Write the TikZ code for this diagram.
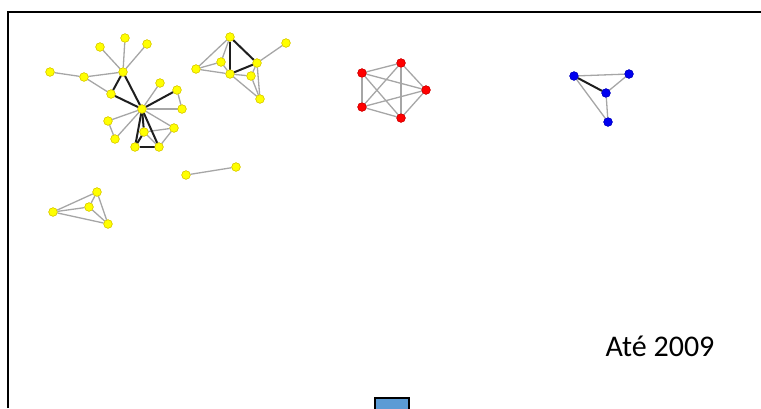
\documentclass[tikz,border=0pt]{standalone}
\usepackage{fontspec}
\setmainfont{Carlito}
\usetikzlibrary{positioning}
\definecolor{yv}{HTML}{FFFF00}
\definecolor{yb}{HTML}{D8C800}
\definecolor{rv}{HTML}{FF0000}
\definecolor{bv}{HTML}{0000F0}
\definecolor{eg}{HTML}{A6A6A6}
\definecolor{ek}{HTML}{1E1E1E}
\definecolor{bx}{HTML}{5B9BD5}
\tikzset{
  yv/.style={circle, fill=yv, draw=yb, line width=0.5pt, minimum size=8.5pt, inner sep=0pt},
  rv/.style={yv, fill=rv, draw=rv!80!black},
  bv/.style={yv, fill=bv, draw=bv!80!black},
  eg/.style={draw=eg, line width=1.3pt},
  ek/.style={draw=ek, line width=2pt},
  frame/.style={line width=2.5pt, black}
}
\begin{document}
\begin{tikzpicture}[x=1pt, y=-1pt]
\useasboundingbox (0,0) rectangle (761,408);

% frame and box
\draw[frame] (8,408) -- (8,12) -- (761,12);
\draw[fill=bx, line width=1.8pt] (375,410) -- (375,398) -- (409,398) -- (409,410);

% big yellow component
\node[yv] (a1) at (50,72) {};
\node[yv] (a2) at (84,77) {};
\node[yv] (a3) at (123,72) {};
\node[yv] (a4) at (100,47) {};
\node[yv] (a5) at (125,38) {};
\node[yv] (a6) at (147,44) {};
\node[yv] (a7) at (111,94) {};
\node[yv] (hub) at (142,109) {};
\node[yv] (a8) at (160,83) {};
\node[yv] (a9) at (177,90) {};
\node[yv] (a10) at (182,109) {};
\node[yv] (a11) at (108,121) {};
\node[yv] (a12) at (115,139) {};
\node[yv] (a13) at (144,132) {};
\node[yv] (a14) at (174,128) {};
\node[yv] (a15) at (135,147) {};
\node[yv] (a16) at (159,147) {};

% second yellow component
\node[yv] (b1) at (230,37) {};
\node[yv] (b2) at (286,43) {};
\node[yv] (b3) at (196,69) {};
\node[yv] (b4) at (221,62) {};
\node[yv] (b5) at (230,74) {};
\node[yv] (b6) at (257,63) {};
\node[yv] (b7) at (251,76) {};
\node[yv] (b8) at (260,99) {};

% small yellow components
\node[yv] (c1) at (97,192) {};
\node[yv] (c2) at (53,212) {};
\node[yv] (c3) at (89,207) {};
\node[yv] (c4) at (108,224) {};
\node[yv] (d1) at (186,175) {};
\node[yv] (d2) at (236,167) {};

% red pentagon
\node[rv] (r1) at (401,63) {};
\node[rv] (r2) at (362,73) {};
\node[rv] (r3) at (426,90) {};
\node[rv] (r4) at (362,107) {};
\node[rv] (r5) at (401,118) {};

% blue component
\node[bv] (u1) at (574,76) {};
\node[bv] (u2) at (629,74) {};
\node[bv] (u3) at (606,93) {};
\node[bv] (u4) at (608,122) {};

% edges
\foreach \s/\t in {a1/a2, a2/a3, a2/a7, a3/a4, a3/a5, a3/a6, hub/a8, a9/a10,
    hub/a10, hub/a11, a11/a12, hub/a12, hub/a14, a13/a14, a14/a16, a13/a16,
    b1/b3, b1/b4, b3/b4, b3/b5, b4/b5, b6/b2, b6/b8, b5/b8, b5/b7, b7/b8, b6/b7,
    c1/c2, c2/c3, c2/c4, c1/c3, c1/c4, c3/c4, d1/d2,
    r1/r2, r1/r3, r1/r4, r1/r5, r2/r3, r2/r4, r2/r5, r3/r4, r3/r5, r4/r5,
    u1/u2, u2/u3, u1/u4, u3/u4}
  \draw[eg] (\s) -- (\t);
\foreach \s/\t in {a3/a7, a3/hub, a7/hub, hub/a9, hub/a13, hub/a15, hub/a16,
    a13/a15, a15/a16, b1/b5, b1/b6, b5/b6, u1/u3}
  \draw[ek] (\s) -- (\t);

% vertices again, over the edges
\foreach \v in {a1,a2,a3,a4,a5,a6,a7,hub,a8,a9,a10,a11,a12,a13,a14,a15,a16,
    b1,b2,b3,b4,b5,b6,b7,b8,c1,c2,c3,c4,d1,d2}
  \node[yv] at (\v) {};
\foreach \v in {r1,r2,r3,r4,r5}
  \node[rv] at (\v) {};
\foreach \v in {u1,u2,u3,u4}
  \node[bv] at (\v) {};

\node[font=\fontsize{30}{36}\selectfont] (yr) at (660,346) {Até 2009};

\end{tikzpicture}
\end{document}
